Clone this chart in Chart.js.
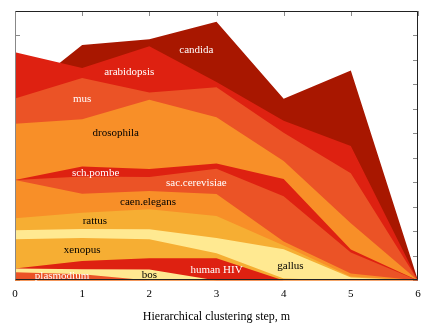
<!DOCTYPE html>
<html>
<head>
<meta charset="utf-8">
<script src="https://cdn.jsdelivr.net/npm/chart.js@4"></script>
<style>
  body { margin: 0; background: #fff; }
  #wrap { width: 436px; height: 327px; position: relative; }
</style>
</head>
<body>
<div id="wrap"><canvas id="chart"></canvas></div>
<script>
// x positions (clustering step m)
const steps = [0, 1, 2, 3, 4, 5, 6];

// layer thickness at each step, bottom layer first
const plasmodium    = [0.33, 0.25, 0,    0,    0,    0,    0];
const bos           = [0.16, 0.21, 0.45, 0,    0,    0,    0];
const humanHIV      = [0,    0.33, 0.45, 0.90, 0,    0,    0];
const xenopus       = [1.19, 0.94, 0.78, 0.21, 0.08, 0,    0];
const gallus        = [0.37, 0.37, 0.41, 0.62, 1.19, 0.12, 0];
const rattus        = [0.49, 0.66, 0.82, 0.90, 0.16, 0.04, 0];
const caenElegans   = [1.56, 0.78, 0.74, 0.90, 0.16, 0.12, 0];
const sacCerevisiae = [0,    0.70, 0.57, 1.03, 1.85, 0.86, 0];
const schPombe      = [0,    0.41, 0.33, 0.21, 0.70, 0.12, 0];
const drosophila    = [2.30, 1.93, 2.83, 1.89, 0.74, 1.07, 0];
const mus           = [1.03, 1.68, 0.29, 1.23, 1.15, 2.05, 0];
const arabidopsis   = [1.89, 0.41, 1.89, 0.21, 0.49, 1.11, 0];
const candida       = [-1.89, 0.94, 0.29, 2.46, 0.90, 3.08, 0];

const names = ['plasmodium', 'bos', 'human HIV', 'xenopus', 'gallus', 'rattus', 'caen.elegans',
               'sac.cerevisiae', 'sch.pombe', 'drosophila', 'mus', 'arabidopsis', 'candida'];
const layers = [plasmodium, bos, humanHIV, xenopus, gallus, rattus, caenElegans,
                sacCerevisiae, schPombe, drosophila, mus, arabidopsis, candida];

const yTicks = [0, 1, 2, 3, 4, 5, 6, 7, 8, 9, 10, 11];

const DARK = '#a81700', RED = '#de2111', ORED = '#eb5326', ORANGE = '#f88f28',
      YORANGE = '#f6ae33', LYELLOW = '#ffe991';
const fills = [ORED, LYELLOW, RED, YORANGE, LYELLOW, YORANGE, ORANGE,
               ORED, RED, ORANGE, ORED, RED, DARK];

// where each name is written, in data units
const labelSpots = [
  ['plasmodium', 0.70, 0.18, '#fff'],
  ['bos', 2.0, 0.22, '#000'],
  ['human HIV', 3.0, 0.41, '#fff'],
  ['gallus', 4.1, 0.6, '#000'],
  ['xenopus', 1.0, 1.23, '#000'],
  ['rattus', 1.19, 2.42, '#000'],
  ['caen.elegans', 1.98, 3.2, '#000'],
  ['sac.cerevisiae', 2.7, 3.98, '#fff'],
  ['sch.pombe', 1.2, 4.39, '#fff'],
  ['drosophila', 1.5, 6.0, '#000'],
  ['mus', 1.0, 7.39, '#fff'],
  ['arabidopsis', 1.7, 8.5, '#fff'],
  ['candida', 2.7, 9.4, '#fff']
];

// running top of each layer
const running = steps.map(() => 0);
const datasets = layers.map((vals, i) => {
  const pts = steps.map((s, j) => {
    running[j] += vals[j];
    return { x: s, y: +running[j].toFixed(3) };
  });
  return {
    label: names[i],
    data: pts,
    fill: 'origin',
    backgroundColor: fills[i],
    borderWidth: 0,
    pointRadius: 0,
    tension: 0
  };
});

const SERIF = '"Liberation Serif", "DejaVu Serif", serif';

const frameTicks = {
  id: 'frameTicks',
  beforeDatasetsDraw(chart) {
    const { ctx, chartArea: a, scales: { x, y } } = chart;
    ctx.save();
    ctx.strokeStyle = '#8a8a8a';
    ctx.lineWidth = 1;
    ctx.beginPath();
    yTicks.forEach(v => {
      const py = Math.round(y.getPixelForValue(v)) + 0.5;
      ctx.moveTo(a.left, py); ctx.lineTo(a.left + 5, py);
      ctx.moveTo(a.right, py); ctx.lineTo(a.right - 5, py);
    });
    steps.forEach(s => {
      const px = Math.round(x.getPixelForValue(s)) + 0.5;
      ctx.moveTo(px, a.top); ctx.lineTo(px, a.top + 5);
    });
    ctx.stroke();
    ctx.restore();
  },
  afterDatasetsDraw(chart) {
    const { ctx, chartArea: a, scales: { x, y } } = chart;
    ctx.save();
    ctx.font = '11px ' + SERIF;
    ctx.textAlign = 'center';
    ctx.textBaseline = 'middle';
    labelSpots.forEach(([t, lx, ly, c]) => {
      ctx.fillStyle = c;
      ctx.fillText(t, x.getPixelForValue(lx), y.getPixelForValue(ly));
    });
    const l = Math.round(a.left) + 0.5, r = Math.round(a.right) - 0.5;
    const t = Math.round(a.top) + 0.5, b = Math.round(a.bottom) - 0.5;
    ctx.lineWidth = 1;
    ctx.strokeStyle = '#222';
    ctx.beginPath();
    ctx.moveTo(l, t); ctx.lineTo(r, t); ctx.lineTo(r, b); ctx.lineTo(l, b);
    ctx.stroke();
    ctx.strokeStyle = '#888';
    ctx.beginPath();
    ctx.moveTo(l, t); ctx.lineTo(l, b);
    ctx.stroke();
    ctx.restore();
  }
};

new Chart(document.getElementById('chart'), {
  type: 'line',
  data: { datasets },
  options: {
    responsive: true,
    maintainAspectRatio: false,
    animation: false,
    layout: { padding: { left: 15, right: 18, top: 11, bottom: 0 } },
    plugins: { legend: { display: false }, tooltip: { enabled: false } },
    scales: {
      x: {
        type: 'linear',
        min: 0, max: 6,
        ticks: { stepSize: 1, padding: 7, color: '#000', font: { family: SERIF, size: 11 } },
        grid: { display: false, drawTicks: false },
        border: { display: false },
        title: {
          display: true,
          text: 'Hierarchical clustering step, m',
          color: '#000',
          font: { family: SERIF, size: 12 },
          padding: { top: 2, bottom: 3 }
        }
      },
      y: {
        display: false,
        min: 0, max: 11
      }
    }
  },
  plugins: [frameTicks]
});
</script>
</body>
</html>
